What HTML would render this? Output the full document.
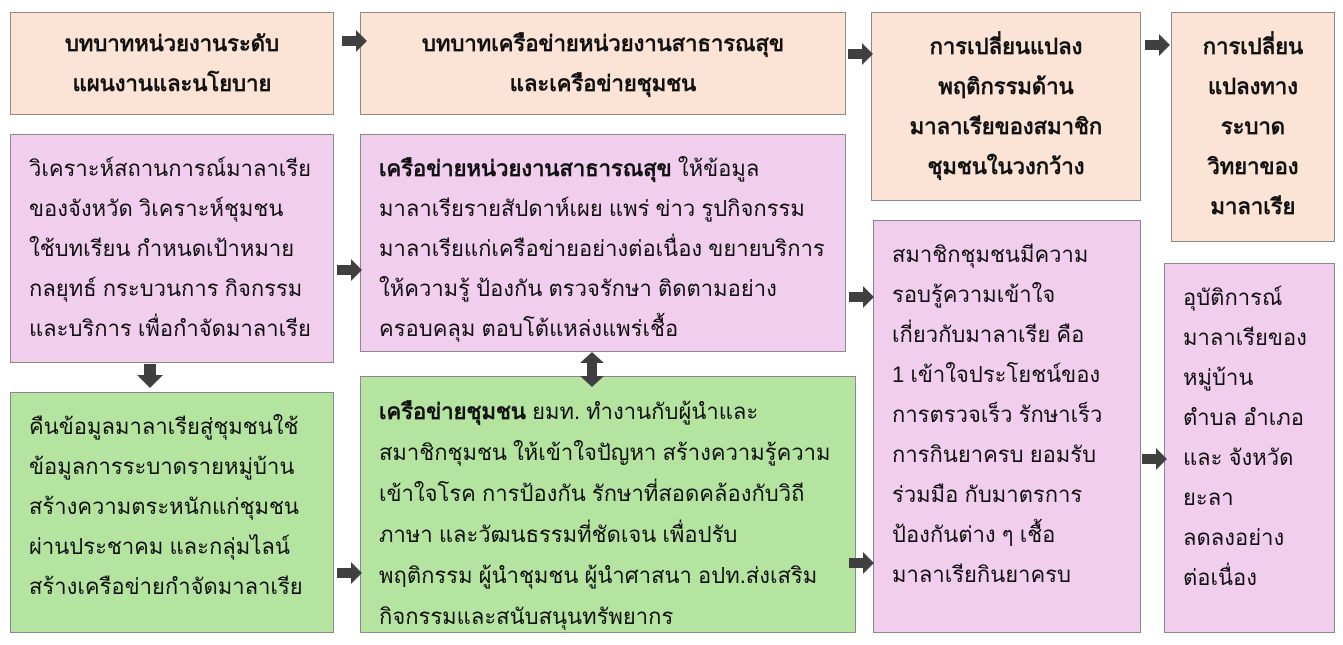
<!DOCTYPE html>
<html><head><meta charset="utf-8"><style>
body{margin:0;width:1343px;height:645px;background:#fff;position:relative;overflow:hidden;font-family:"Liberation Sans","DejaVu Sans",sans-serif;color:#111}
.b{position:absolute;box-sizing:border-box;border:1.5px solid #8a8a8a;font-size:22px;line-height:40px;white-space:nowrap}
.p{background:#fbe3d6;font-weight:bold;text-align:center;display:flex;align-items:center;justify-content:center}
.u{background:#f1cdee;padding:14px 18px}
.g{background:#b5e4a1;padding:14px 18px}
svg{position:absolute;left:0;top:0}
</style></head><body>
<div class="b p" style="left:10px;top:12px;width:324px;height:103px">บทบาทหน่วยงานระดับ<br>แผนงานและนโยบาย</div>
<div class="b p" style="left:360px;top:12px;width:486px;height:103px">บทบาทเครือข่ายหน่วยงานสาธารณสุข<br>และเครือข่ายชุมชน</div>
<div class="b p" style="left:871px;top:12px;width:270px;height:189px">การเปลี่ยนแปลง<br>พฤติกรรมด้าน<br>มาลาเรียของสมาชิก<br>ชุมชนในวงกว้าง</div>
<div class="b p" style="left:1171px;top:12px;width:164px;height:230px">การเปลี่ยน<br>แปลงทาง<br>ระบาด<br>วิทยาของ<br>มาลาเรีย</div>
<div class="b u" style="left:10px;top:134px;width:324px;height:229px">วิเคราะห์สถานการณ์มาลาเรีย<br>ของจังหวัด วิเคราะห์ชุมชน<br>ใช้บทเรียน กำหนดเป้าหมาย<br>กลยุทธ์ กระบวนการ กิจกรรม<br>และบริการ เพื่อกำจัดมาลาเรีย</div>
<div class="b u" style="left:360px;top:134px;width:486px;height:218px"><b>เครือข่ายหน่วยงานสาธารณสุข</b> ให้ข้อมูล<br>มาลาเรียรายสัปดาห์เผย แพร่ ข่าว รูปกิจกรรม<br>มาลาเรียแก่เครือข่ายอย่างต่อเนื่อง ขยายบริการ<br>ให้ความรู้ ป้องกัน ตรวจรักษา ติดตามอย่าง<br>ครอบคลุม ตอบโต้แหล่งแพร่เชื้อ</div>
<div class="b u" style="left:873px;top:220px;width:268px;height:413px">สมาชิกชุมชนมีความ<br>รอบรู้ความเข้าใจ<br>เกี่ยวกับมาลาเรีย คือ<br>1 เข้าใจประโยชน์ของ<br>การตรวจเร็ว รักษาเร็ว<br>การกินยาครบ ยอมรับ<br>ร่วมมือ กับมาตรการ<br>ป้องกันต่าง ๆ เชื้อ<br>มาลาเรียกินยาครบ</div>
<div class="b u" style="left:1164px;top:263px;width:171px;height:370px">อุบัติการณ์<br>มาลาเรียของ<br>หมู่บ้าน<br>ตำบล อำเภอ<br>และ จังหวัด<br>ยะลา<br>ลดลงอย่าง<br>ต่อเนื่อง</div>
<div class="b g" style="left:10px;top:392px;width:324px;height:241px">คืนข้อมูลมาลาเรียสู่ชุมชนใช้<br>ข้อมูลการระบาดรายหมู่บ้าน<br>สร้างความตระหนักแก่ชุมชน<br>ผ่านประชาคม และกลุ่มไลน์<br>สร้างเครือข่ายกำจัดมาลาเรีย</div>
<div class="b g" style="left:360px;top:376px;width:496px;height:257px;line-height:41px"><b>เครือข่ายชุมชน</b> ยมท. ทำงานกับผู้นำและ<br>สมาชิกชุมชน ให้เข้าใจปัญหา สร้างความรู้ความ<br>เข้าใจโรค การป้องกัน รักษาที่สอดคล้องกับวิถี<br>ภาษา และวัฒนธรรมที่ชัดเจน เพื่อปรับ<br>พฤติกรรม ผู้นำชุมชน ผู้นำศาสนา อปท.ส่งเสริม<br>กิจกรรมและสนับสนุนทรัพยากร</div>
<svg width="1343" height="645" fill="#404040">
<defs><path id="r" d="M0,-5 H14 V-11 L25,0 L14,11 V5 H0 Z"/></defs>
<use href="#r" x="342" y="41"/>
<use href="#r" x="848" y="54"/>
<use href="#r" x="1145" y="45"/>
<use href="#r" x="337" y="270"/>
<use href="#r" x="849" y="297"/>
<use href="#r" x="337" y="573"/>
<use href="#r" x="849" y="563"/>
<use href="#r" x="1142" y="459"/>
<path d="M144,364 H156 V375 H163 L150,388 L137,375 H144 Z"/>
<path d="M592,352 L604,363 H597 V376 H604 L592,387 L580,376 H587 V363 H580 Z"/>
</svg>
</body></html>
